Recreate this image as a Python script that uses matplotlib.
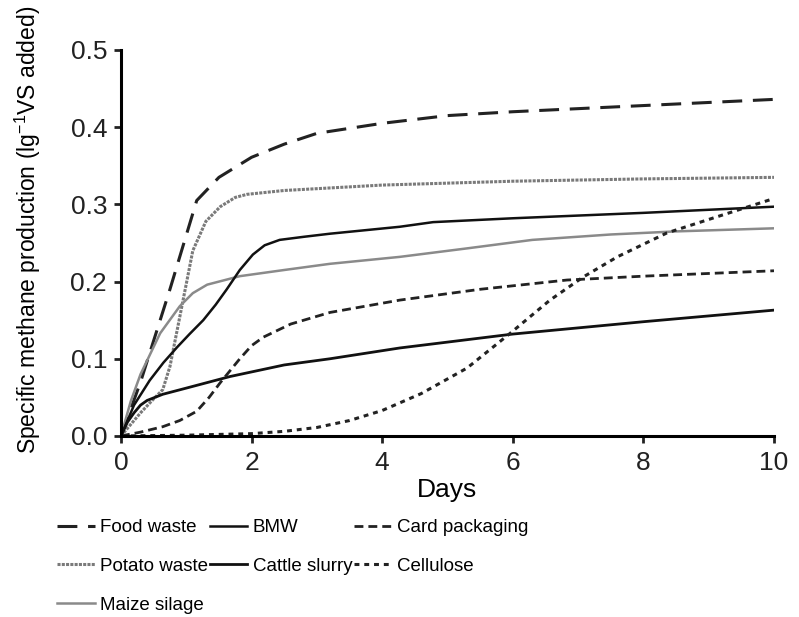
import matplotlib.pyplot as plt

plt.rcParams['font.family'] = ['Liberation Sans', 'DejaVu Sans']
plt.rcParams['mathtext.default'] = 'regular'

# valores
food_x = [0, 0.3, 0.75, 1.16, 1.5, 2.0, 2.5, 3.0, 4.0, 5.0, 6.0, 7.0, 8.0, 9.0, 10.0]
food_y = [0, 0.07, 0.19, 0.305, 0.335, 0.361, 0.378, 0.392, 0.405, 0.415, 0.420, 0.424, 0.428, 0.432, 0.436]

potato_x = [0, 0.3, 0.5, 0.64, 0.75, 0.9, 1.1, 1.3, 1.52, 1.75, 1.93, 2.5, 4.0, 6.0, 8.0, 10.0]
potato_y = [0, 0.03, 0.048, 0.06, 0.09, 0.154, 0.24, 0.278, 0.297, 0.309, 0.313, 0.318, 0.325, 0.330, 0.333, 0.335]

maize_x = [0, 0.15, 0.3, 0.6, 0.9, 1.1, 1.32, 1.82, 2.5, 3.2, 4.27, 5.3, 6.3, 7.5, 8.5, 10.0]
maize_y = [0, 0.045, 0.08, 0.133, 0.168, 0.185, 0.196, 0.207, 0.215, 0.223, 0.232, 0.243, 0.254, 0.261, 0.265, 0.269]

bmw_x = [0, 0.2, 0.44, 0.65, 0.86, 1.05, 1.26, 1.45, 1.62, 1.82, 2.02, 2.2, 2.43, 2.8, 3.2, 4.27, 4.78, 6.0, 8.0, 10.0]
bmw_y = [0, 0.04, 0.072, 0.095, 0.115, 0.132, 0.15, 0.17, 0.19, 0.215, 0.235, 0.247, 0.254, 0.258, 0.262, 0.271, 0.277, 0.282, 0.289, 0.297]

cattle_x = [0, 0.1, 0.2, 0.3, 0.4, 0.64, 1.0, 1.67, 2.5, 3.2, 4.27, 6.0, 8.0, 10.0]
cattle_y = [0, 0.018, 0.03, 0.04, 0.046, 0.054, 0.062, 0.077, 0.092, 0.10, 0.114, 0.132, 0.148, 0.163]

card_x = [0, 0.3, 0.64, 0.9, 1.16, 1.35, 1.52, 1.82, 2.0, 2.18, 2.6, 3.2, 4.27, 5.5, 6.83, 8.0, 10.0]
card_y = [0, 0.005, 0.012, 0.02, 0.032, 0.05, 0.069, 0.10, 0.117, 0.128, 0.145, 0.16, 0.176, 0.19, 0.202, 0.207, 0.214]

cell_x = [0, 1.0, 2.0, 2.5, 3.0, 3.5, 4.0, 4.6, 5.3, 5.96, 6.57, 7.08, 7.6, 8.36, 9.13, 9.94]
cell_y = [0, 0.001, 0.003, 0.006, 0.011, 0.02, 0.033, 0.055, 0.088, 0.133, 0.176, 0.206, 0.232, 0.263, 0.284, 0.306]

fig = plt.figure(figsize=(7.99, 6.17), dpi=100)
ax = fig.add_axes([0.1514, 0.2934, 0.8173, 0.6256])

ax.plot(food_x, food_y, color='#222222', lw=2.2, linestyle=(0, (6.5, 3.5)), label='Food waste')
ax.plot(potato_x, potato_y, color='#7a7a7a', lw=2.2, linestyle=(0, (1, 0.4)), label='Potato waste')
ax.plot(maize_x, maize_y, color='#8a8a8a', lw=1.8, label='Maize silage')
ax.plot(bmw_x, bmw_y, color='#111111', lw=1.8, label='BMW')
ax.plot(cattle_x, cattle_y, color='#111111', lw=2.0, label='Cattle slurry')
ax.plot(card_x, card_y, color='#222222', lw=2.0, linestyle=(0, (3.2, 1.8)), label='Card packaging')
ax.plot(cell_x, cell_y, color='#222222', lw=2.2, linestyle=(0, (1.6, 1.6)), label='Cellulose')

ax.set_xlim(0, 10)
ax.set_ylim(0, 0.5)
ax.set_xticks([0, 2, 4, 6, 8, 10])
ax.set_yticks([0.0, 0.1, 0.2, 0.3, 0.4, 0.5])
ax.set_yticklabels(['0.0', '0.1', '0.2', '0.3', '0.4', '0.5'])
ax.spines['top'].set_visible(False)
ax.spines['right'].set_visible(False)
ax.spines['left'].set_linewidth(2.2)
ax.spines['bottom'].set_linewidth(2.2)
ax.tick_params(width=2, length=5, pad=5, labelsize=19, colors='#222222')
ax.tick_params(axis='x', pad=6)
ax.set_xlabel('Days', fontsize=19, labelpad=2)
ax.set_ylabel('Specific methane production (lg$^{-1}$VS added)', fontsize=16.5)
ax.yaxis.set_label_coords(-0.12, 0.534)

ax.legend(ncol=3, loc='upper left', bbox_to_anchor=(0.062, 0.171),
          bbox_transform=fig.transFigure, frameon=False,
          fontsize=13.5, handlelength=2.0, columnspacing=0.08, handletextpad=0.3,
          labelspacing=1.16, borderaxespad=0)

plt.savefig('out.png')
